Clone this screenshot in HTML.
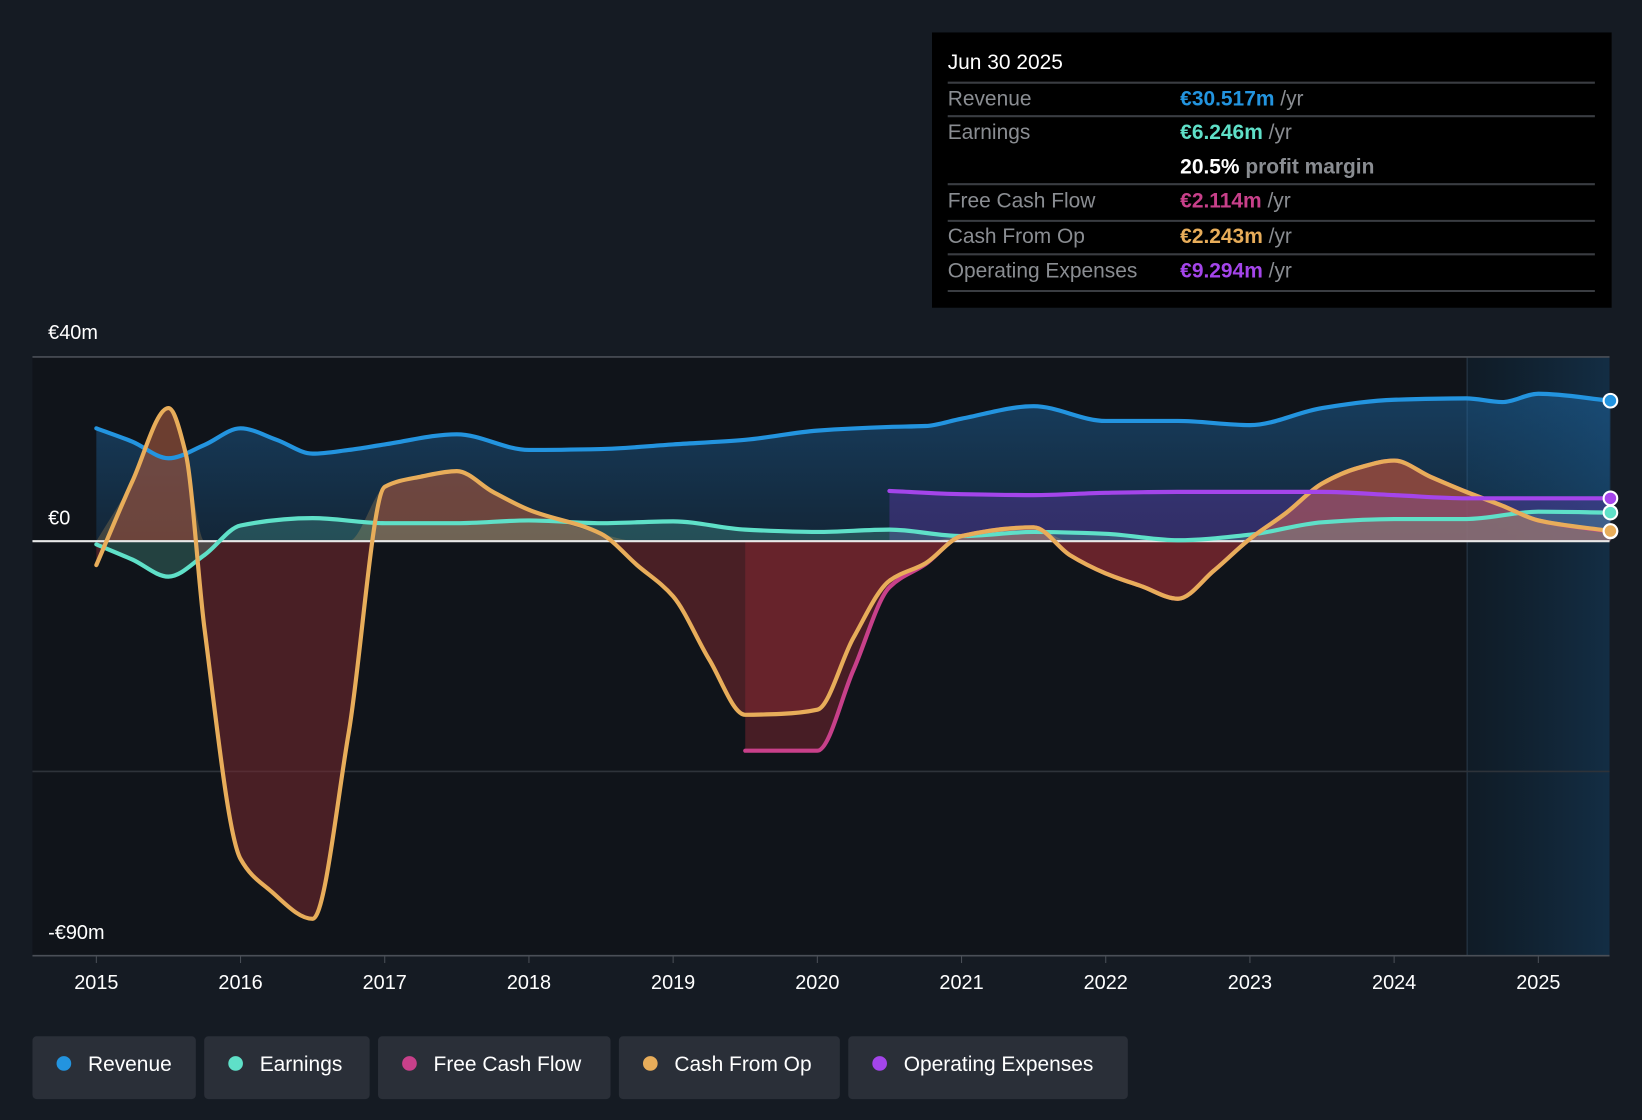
<!DOCTYPE html>
<html><head><meta charset="utf-8">
<style>
html,body{margin:0;padding:0;background:#151b23;}
body{width:1642px;height:1120px;overflow:hidden;font-family:"Liberation Sans",sans-serif;}
svg{display:block;}
</style></head>
<body>
<svg id="chart" width="1642" height="1120" viewBox="0 0 1568 1070" preserveAspectRatio="none" xmlns="http://www.w3.org/2000/svg">
<defs>
<linearGradient id="gRev" x1="0" y1="0" x2="0" y2="1"><stop offset="0" stop-color="#1f6fb0" stop-opacity="0.45"/><stop offset="1" stop-color="#1f6fb0" stop-opacity="0.2"/></linearGradient>
<linearGradient id="gFore" x1="0" y1="0" x2="1" y2="0"><stop offset="0" stop-color="#0f2333" stop-opacity="0.5"/><stop offset="1" stop-color="#14344f" stop-opacity="0.8"/></linearGradient>
</defs>
<rect x="31" y="341" width="1506" height="572" fill="#10141a"/>
<rect x="1401" y="341" width="136" height="572" fill="url(#gFore)"/>
<line x1="1401" y1="341" x2="1401" y2="913" stroke="#2a3a4a" stroke-width="1"/>
<g id="grid"></g>
<g id="areas"></g>
<g id="lines"></g>
<g id="xaxis"></g>
<text x="46" y="324" fill="#fff" font-size="19">€40m</text>
<text x="46" y="501" fill="#fff" font-size="19">€0</text>
<text x="46" y="897" fill="#fff" font-size="19">-€90m</text>

<g>
<rect x="890" y="31" width="649" height="263" fill="#000"/>
<text x="905" y="66" fill="#fff" font-size="20">Jun 30 2025</text>
<g stroke="#3a3d42" stroke-width="2">
<line x1="905" y1="79" x2="1523" y2="79"/><line x1="905" y1="111" x2="1523" y2="111"/>
<line x1="905" y1="176" x2="1523" y2="176"/><line x1="905" y1="211" x2="1523" y2="211"/>
<line x1="905" y1="243" x2="1523" y2="243"/><line x1="905" y1="278" x2="1523" y2="278"/>
</g>
<g font-size="20" fill="#8a8d92">
<text x="905" y="101">Revenue</text><text x="905" y="133">Earnings</text>
<text x="905" y="198">Free Cash Flow</text><text x="905" y="232">Cash From Op</text>
<text x="905" y="265">Operating Expenses</text>
</g>
<g font-size="20" font-weight="bold">
<text x="1127" y="101"><tspan fill="#2394df">€30.517m</tspan><tspan fill="#8a8d92" font-weight="normal"> /yr</tspan></text>
<text x="1127" y="133"><tspan fill="#5fe0c8">€6.246m</tspan><tspan fill="#8a8d92" font-weight="normal"> /yr</tspan></text>
<text x="1127" y="166"><tspan fill="#fff">20.5%</tspan><tspan fill="#8a8d92"> profit margin</tspan></text>
<text x="1127" y="198"><tspan fill="#c8408a">€2.114m</tspan><tspan fill="#8a8d92" font-weight="normal"> /yr</tspan></text>
<text x="1127" y="232"><tspan fill="#e8ad5a">€2.243m</tspan><tspan fill="#8a8d92" font-weight="normal"> /yr</tspan></text>
<text x="1127" y="265"><tspan fill="#a445ea">€9.294m</tspan><tspan fill="#8a8d92" font-weight="normal"> /yr</tspan></text>
</g>
</g>
<g id="legend"></g>
</svg>
<script>
const revX=[2015,2015.25,2015.5,2015.75,2016,2016.25,2016.5,2016.75,2017,2017.5,2018,2018.5,2019,2019.5,2020,2020.5,2020.75,2021,2021.5,2022,2022.5,2023,2023.5,2024,2024.5,2024.75,2025,2025.5];
const revenue=[24.5,21.6,18,20.9,24.5,22,19,19.8,21,23.2,19.8,20,21,22,24,24.8,25,26.6,29.3,26.1,26.1,25.2,28.9,30.7,31,30.2,32,30.5];
const earnX=[2015,2015.25,2015.5,2015.75,2016,2016.5,2017,2017.5,2018,2018.5,2019,2019.5,2020,2020.5,2021,2021.5,2022,2022.5,2023,2023.5,2024,2024.5,2025,2025.5];
const earnings=[-0.7,-4,-7.7,-3,3.4,5,3.9,3.9,4.5,3.9,4.3,2.5,2,2.5,1.1,2,1.6,0.2,1.4,4.1,4.8,4.8,6.4,6.2];
const cfoX=[2015,2015.25,2015.5,2015.62,2015.75,2016,2016.2,2016.5,2016.75,2017,2017.25,2017.5,2017.75,2018,2018.5,2018.75,2019,2019.25,2019.5,2019.75,2020,2020.25,2020.5,2020.75,2021,2021.5,2021.75,2022,2022.25,2022.5,2022.75,2023,2023.25,2023.5,2023.75,2024,2024.25,2024.5,2024.75,2025,2025.5];
const cashFromOp=[-5.2,13,28.9,19,-19,-69,-75.7,-82,-41.6,11.8,14,15.2,10.7,6.8,1.6,-5.2,-12,-25.7,-37.7,-37.5,-36.6,-21,-8.6,-4.8,1.1,3,-3,-7,-9.8,-12.5,-6.4,0.5,6.1,12.5,15.9,17.5,14,10.7,7.7,4.5,2.2];
const fcfX=[2019.5,2019.75,2020,2020.25,2020.5,2020.75,2021,2021.5,2021.75,2022,2022.25,2022.5,2022.75,2023,2023.25,2023.5,2023.75,2024,2024.25,2024.5,2024.75,2025,2025.5];
const freeCashFlow=[-45.5,-45.5,-45.5,-28,-10,-5,1.1,3,-3,-7,-9.8,-12.5,-6.4,0.5,6.1,12.5,15.9,17.5,14,10.7,7.7,4.5,2.1];
const opexX=[2020.5,2021,2021.5,2022,2022.5,2023,2023.5,2024,2024.5,2025,2025.5];
const opex=[10.9,10.2,10,10.5,10.7,10.7,10.7,10,9.3,9.3,9.3];
const yearTicks=[2015,2016,2017,2018,2019,2020,2021,2022,2023,2024,2025];
const legendItems=["Revenue","Earnings","Free Cash Flow","Cash From Op","Operating Expenses"];

const NS="http://www.w3.org/2000/svg";
const sx=y=>92+(y-2015)*137.7;
const sy=v=>517-v*4.4;
function pts(xs,vs){return xs.map((x,i)=>[sx(x),sy(vs[i])]);}
function curve(p){const n=p.length;const d=[],m=[];
 for(let i=0;i<n-1;i++)d.push((p[i+1][1]-p[i][1])/(p[i+1][0]-p[i][0]));
 m[0]=d[0];m[n-1]=d[n-2];
 for(let i=1;i<n-1;i++){if(d[i-1]*d[i]<=0)m[i]=0;else{const h0=p[i][0]-p[i-1][0],h1=p[i+1][0]-p[i][0];m[i]=3*(h0+h1)/((2*h1+h0)/d[i-1]+(h1+2*h0)/d[i]);}}
 let s="M"+p[0][0]+","+p[0][1];
 for(let i=0;i<n-1;i++){const h=(p[i+1][0]-p[i][0])/3;
  s+=" C"+(p[i][0]+h)+","+(p[i][1]+m[i]*h)+" "+(p[i+1][0]-h)+","+(p[i+1][1]-m[i+1]*h)+" "+p[i+1][0]+","+p[i+1][1];}
 return s;}
function mk(tag,attrs,parent){const e=document.createElementNS(NS,tag);for(const k in attrs)e.setAttribute(k,attrs[k]);parent.appendChild(e);return e;}
const grid=document.getElementById('grid'),areas=document.getElementById('areas'),lines=document.getElementById('lines'),xaxis=document.getElementById('xaxis'),legend=document.getElementById('legend');
[40,-50].forEach(v=>{const l=mk('line',{x1:31,x2:1537,y1:sy(v),y2:sy(v),stroke:v==40?'#4a4f57':'#2e333a','stroke-width':1.5},grid);

});
mk('line',{x1:31,x2:1537,y1:913,y2:913,stroke:'#4a4f57','stroke-width':1.5},grid);
function area(xs,vs,fill,name){const p=pts(xs,vs);const d=curve(p)+" L"+p[p.length-1][0]+","+sy(0)+" L"+p[0][0]+","+sy(0)+" Z";
 const e=mk('path',{d:d,fill:fill},areas);
 
 }
function line(xs,vs,col,name){const e=mk('path',{d:curve(pts(xs,vs)),fill:'none',stroke:col,'stroke-width':4,'stroke-linecap':'round'},lines);
 
 
 const c=mk('circle',{cx:sx(xs[xs.length-1]),cy:sy(vs[vs.length-1]),r:6.5,fill:col,stroke:'#fff','stroke-width':2},lines);
 
 }
area(revX,revenue,'url(#gRev)','revenue-area');
area(cfoX,cashFromOp,'rgba(120,40,48,0.55)','cash-from-op-area');
area(fcfX,freeCashFlow,'rgba(140,40,50,0.45)','free-cash-flow-area');
area(opexX,opex,'rgba(110,60,190,0.35)','opex-area');
area(earnX,earnings,'rgba(90,200,180,0.25)','earnings-area');
area(cfoX,cashFromOp.map(v=>Math.max(v,0)),'rgba(232,173,90,0.22)','cash-from-op-positive-area');
mk('line',{x1:31,x2:1537,y1:sy(0),y2:sy(0),stroke:'#e8e8e8','stroke-width':2},lines);
line(revX,revenue,'#2394df','revenue-line');
line(earnX,earnings,'#5fe0c8','earnings-line');
line(fcfX,freeCashFlow,'#c8408a','free-cash-flow-line');
line(cfoX,cashFromOp,'#e8ad5a','cash-from-op-line');
line(opexX,opex,'#a445ea','opex-line');
yearTicks.forEach(y=>{mk('line',{x1:sx(y),x2:sx(y),y1:913,y2:920,stroke:'#4a4f57'},xaxis);
 const t=mk('text',{x:sx(y),y:945,fill:'#fff','font-size':19,'text-anchor':'middle'},xaxis);t.textContent=y;
 
 });
const legCols=['#2394df','#5fe0c8','#c8408a','#e8ad5a','#a445ea'];
const legX=[31,195,361,591,810],legW=[156,158,222,211,267];
legendItems.forEach((n,i)=>{const g=mk('g',{},legend);
 
 
 mk('rect',{x:legX[i],y:990,width:legW[i],height:60,rx:4,fill:'#2a2f38'},g);
 mk('circle',{cx:legX[i]+30,cy:1016,r:7,fill:legCols[i]},g);
 const t=mk('text',{x:legX[i]+53,y:1023,fill:'#fff','font-size':20},g);t.textContent=n;});
</script>
</body></html>
